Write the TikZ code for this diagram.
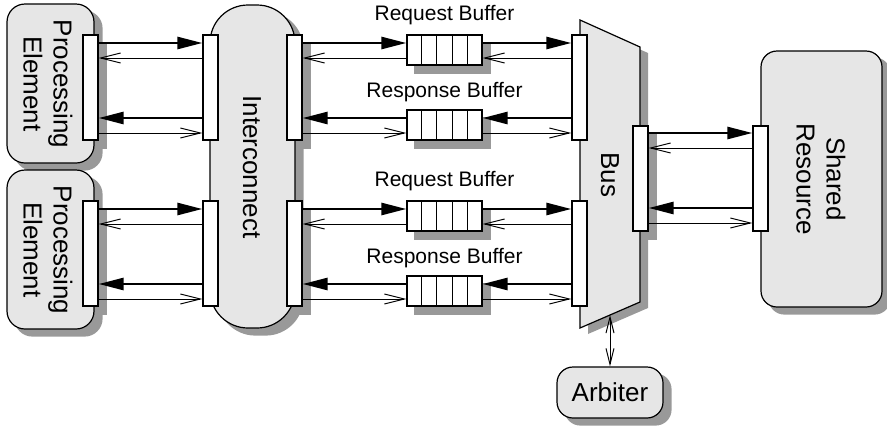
\documentclass[tikz,border=0pt]{standalone}
\usepackage{fontspec}
\setmainfont{Liberation Sans}
\usetikzlibrary{arrows.meta,calc}
\pgfdeclarelayer{background}
\pgfsetlayers{background,main}
\definecolor{boxfill}{RGB}{230,230,230}
\definecolor{shadowc}{RGB}{153,153,153}
\tikzset{
  box/.style={draw, fill=boxfill, line width=1.2pt, inner sep=0pt},
  port/.style={draw, fill=white, line width=1.2pt, minimum width=15pt, minimum height=105pt, inner sep=0pt},
  fifo/.style={draw, fill=white, line width=1.2pt, minimum width=75pt, minimum height=30pt, inner sep=0pt},
  bigtxt/.style={font=\fontsize{26}{30}\selectfont, align=center, inner sep=0pt},
  buftxt/.style={font=\fontsize{21}{24}\selectfont, inner sep=0pt, anchor=base},
  fwd/.style={line width=2.6pt, -{Triangle[length=25pt, width=12pt]}},
  ack/.style={line width=1pt, -{Straight Barb[length=20pt, width=10pt, line width=1pt]}},
  both/.style={line width=1pt, {Straight Barb[length=16pt, width=8pt, line width=1pt]}-{Straight Barb[length=16pt, width=8pt, line width=1pt]}},
}
\begin{document}
\begin{tikzpicture}[x=1pt, y=-1pt]
\useasboundingbox (0,0) rectangle (887,429);

% main blocks
\node[box, rounded corners=18pt, minimum width=87pt, minimum height=159pt] (pe1) at (50.5,83.5) {};
\node[box, rounded corners=18pt, minimum width=87pt, minimum height=159pt] (pe2) at (50.5,249.5) {};
\node[box, rounded corners=38pt, minimum width=85pt, minimum height=323pt] (ic) at (252.5,166.5) {};
\node[box, rounded corners=16pt, minimum width=121pt, minimum height=256pt] (sr) at (821.5,179) {};
\node[box, rounded corners=16pt, minimum width=106pt, minimum height=51pt] (arb) at (610,392.5) {};

% bus (multiplexer outline)
\coordinate (bustl) at (580,20);
\coordinate (bustr) at (640,47);
\coordinate (busbr) at (640,302);
\coordinate (busbl) at (580,328);
\coordinate (busbot) at (610,315);
\draw[line width=1.2pt, fill=boxfill] (bustl) -- (bustr) -- (busbr) -- (busbl) -- cycle;

% ports
\node[port] (pe1p) at (90.5,87.5) {};
\node[port] (pe2p) at (90.5,253.5) {};
\node[port] (ic1l) at (210.5,87.5) {};
\node[port] (ic2l) at (210.5,253.5) {};
\node[port] (ic1r) at (294.5,87.5) {};
\node[port] (ic2r) at (294.5,253.5) {};
\node[port] (bus1l) at (579.5,87.5) {};
\node[port] (bus2l) at (579.5,253.5) {};
\node[port] (busr) at (640.5,178.5) {};
\node[port] (srp) at (760.5,178.5) {};

% buffers
\node[fifo] (req1) at (444.5,50) {};
\node[fifo] (rsp1) at (444.5,125) {};
\node[fifo] (req2) at (444.5,216) {};
\node[fifo] (rsp2) at (444.5,291) {};
\foreach \b in {req1,rsp1,req2,rsp2}
  \foreach \i in {1,...,4}
    \draw[line width=1.2pt] ($(\b.north west)!\i/5!(\b.north east)$) -- ($(\b.south west)!\i/5!(\b.south east)$);

% shadows
\begin{pgfonlayer}{background}
  \foreach \n/\r in {pe1/18,pe2/18,ic/38,sr/16,arb/16}
    \fill[shadowc, rounded corners=\r pt] ([shift={(8,7)}]\n.north west) rectangle ([shift={(8,7)}]\n.south east);
  \foreach \n in {pe1p,pe2p,ic1r,ic2r,busr,req1,rsp1,req2,rsp2}
    \fill[shadowc] ([shift={(8,8)}]\n.north west) rectangle ([shift={(8,8)}]\n.south east);
  \fill[shadowc] ([shift={(8,6)}]bustl) -- ([shift={(8,6)}]bustr) -- ([shift={(8,6)}]busbr) -- ([shift={(8,6)}]busbl) -- cycle;
\end{pgfonlayer}

% labels
\node[bigtxt, rotate=-90] (pe1t) at (48,84) {Processing\\Element};
\node[bigtxt, rotate=-90] (pe2t) at (48,250) {Processing\\Element};
\node[bigtxt, rotate=-90] (ict) at (252,167) {Interconnect};
\node[bigtxt, rotate=-90] (bust) at (610,175) {Bus};
\node[bigtxt, rotate=-90] (srt) at (821,179) {Shared\\Resource};
\node[bigtxt] (arbt) at (610,392.5) {Arbiter};
\node[buftxt] (req1t) at (444.5,20) {Request Buffer};
\node[buftxt] (rsp1t) at (444.5,97) {Response Buffer};
\node[buftxt] (req2t) at (444.5,186) {Request Buffer};
\node[buftxt] (rsp2t) at (444.5,263) {Response Buffer};

% processing element <-> interconnect
\foreach \p/\q/\o in {pe1p/ic1l/0, pe2p/ic2l/166} {
  \draw[fwd] (\p.east |- 0,43+\o) -- (\q.west |- 0,43+\o);
  \draw[ack] (\q.west |- 0,58+\o) -- (\p.east |- 0,58+\o);
  \draw[fwd] (\q.west |- 0,118+\o) -- (\p.east |- 0,118+\o);
  \draw[ack] (\p.east |- 0,133+\o) -- (\q.west |- 0,133+\o);
}

% interconnect <-> buffers <-> bus
\foreach \p/\rq/\rs/\q/\o in {ic1r/req1/rsp1/bus1l/0, ic2r/req2/rsp2/bus2l/166} {
  \draw[fwd] (\p.east |- 0,43+\o) -- (\rq.west |- 0,43+\o);
  \draw[fwd] (\rq.east |- 0,43+\o) -- (\q.west |- 0,43+\o);
  \draw[ack] (\q.west |- 0,58+\o) -- (\rq.east |- 0,58+\o);
  \draw[ack] (\rq.west |- 0,58+\o) -- (\p.east |- 0,58+\o);
  \draw[fwd] (\q.west |- 0,118+\o) -- (\rs.east |- 0,118+\o);
  \draw[fwd] (\rs.west |- 0,118+\o) -- (\p.east |- 0,118+\o);
  \draw[ack] (\p.east |- 0,133+\o) -- (\rs.west |- 0,133+\o);
  \draw[ack] (\rs.east |- 0,133+\o) -- (\q.west |- 0,133+\o);
}

% bus <-> shared resource
\draw[fwd] (busr.east |- 0,133) -- (srp.west |- 0,133);
\draw[ack] (srp.west |- 0,148) -- (busr.east |- 0,148);
\draw[fwd] (srp.west |- 0,208) -- (busr.east |- 0,208);
\draw[ack] (busr.east |- 0,223) -- (srp.west |- 0,223);

% bus <-> arbiter
\draw[both] (busbot) -- (arb.north);
\end{tikzpicture}
\end{document}
